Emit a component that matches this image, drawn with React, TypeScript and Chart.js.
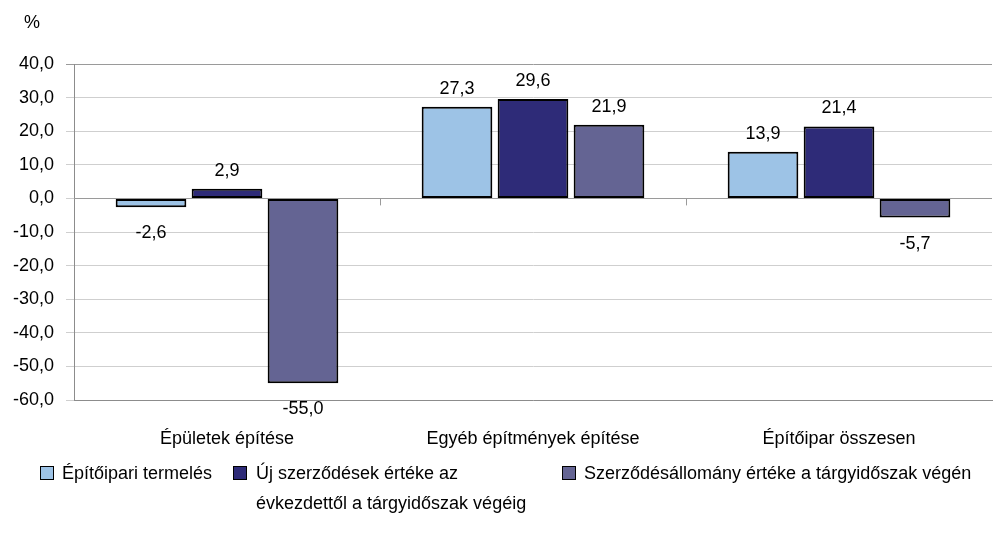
import React, { useEffect, useRef } from "react";
import { Chart, registerables } from "chart.js";

Chart.register(...registerables);

const categories = ["Épületek építése", "Egyéb építmények építése", "Építőipar összesen"];
const seriesNames = [
  "Építőipari termelés",
  "Új szerződések értéke az évkezdettől a tárgyidőszak végéig",
  "Szerződésállomány értéke a tárgyidőszak végén",
];
const termeles = [-2.6, 27.3, 13.9];
const ujSzerzodesek = [2.9, 29.6, 21.4];
const allomany = [-55.0, 21.9, -5.7];
const seriesColors = ["#9dc3e6", "#2e2b78", "#646493"];
const yMin = -60;
const yMax = 40;
const yStep = 10;

const FONT = "'Liberation Sans', Arial, sans-serif";
const FS = 18;
const fmt = (v: number) => v.toFixed(1).replace(".", ",");

const extrasPlugin = {
  id: "extras",
  beforeDatasetsDraw(chart: any) {
    const { ctx, chartArea, scales } = chart;
    const y0 = scales.y.getPixelForValue(0);
    ctx.save();
    ctx.strokeStyle = "#9a9a9a";
    ctx.lineWidth = 1;
    ctx.beginPath();
    ctx.moveTo(chartArea.left, Math.round(y0) + 0.5);
    ctx.lineTo(chartArea.right, Math.round(y0) + 0.5);
    const n = categories.length;
    const w = (chartArea.right - chartArea.left) / n;
    for (let i = 1; i < n; i++) {
      const x = Math.round(chartArea.left + i * w) + 0.5;
      ctx.moveTo(x, y0);
      ctx.lineTo(x, y0 + 7);
    }
    ctx.stroke();
    ctx.restore();
  },
  afterDatasetsDraw(chart: any) {
    const { ctx } = chart;
    ctx.save();
    ctx.font = `${FS}px ${FONT}`;
    ctx.fillStyle = "#000";
    ctx.textAlign = "center";
    ctx.textBaseline = "middle";
    chart.data.datasets.forEach((ds: any, di: number) => {
      const meta = chart.getDatasetMeta(di);
      meta.data.forEach((bar: any, i: number) => {
        const v = ds.data[i];
        const y = v >= 0 ? bar.y - 18 : bar.y + 26;
        ctx.fillText(fmt(v), bar.x, y);
      });
    });
    ctx.restore();
  },
};

export default function App() {
  const ref = useRef<HTMLCanvasElement | null>(null);
  useEffect(() => {
    document.body.style.margin = "0";
    const chart = new Chart(ref.current as HTMLCanvasElement, {
      type: "bar",
      data: {
        labels: categories,
        datasets: [termeles, ujSzerzodesek, allomany].map((d, i) => ({
          label: seriesNames[i],
          data: d,
          backgroundColor: seriesColors[i],
          borderColor: "#000",
          borderWidth: 2,
          borderSkipped: false,
          categoryPercentage: 0.745,
          barPercentage: 0.93,
        })),
      },
      options: {
        animation: false,
        responsive: false,
        layout: { padding: { top: 64, left: 0, right: 1, bottom: 0 } },
        plugins: { legend: { display: false }, tooltip: { enabled: false } },
        scales: {
          x: {
            grid: { display: false, drawTicks: false },
            border: { display: true, color: "#8c8c8c", width: 1 },
            ticks: { color: "#000", font: { family: FONT, size: FS }, padding: 28, maxRotation: 0 },
            afterFit: (s: any) => { s.height = 142; },
          },
          y: {
            min: yMin,
            max: yMax,
            ticks: {
              stepSize: yStep,
              color: "#000",
              font: { family: FONT, size: FS },
              padding: 12,
              callback: (v: any) => fmt(Number(v)),
            },
            grid: {
              color: (c: any) => (c.tick && c.tick.value === yMax ? "#9a9a9a" : "#cfcfcf"),
              tickLength: 8,
            },
            border: { display: true, color: "#8c8c8c", width: 1 },
            afterFit: (s: any) => { s.width = 74; },
          },
        },
      },
      plugins: [extrasPlugin],
    } as any);
    return () => chart.destroy();
  }, []);

  const sq = (c: string): React.CSSProperties => ({
    position: "absolute",
    width: 12,
    height: 12,
    background: c,
    border: "1.5px solid #000",
  });
  const txt: React.CSSProperties = {
    position: "absolute",
    font: `${FS}px ${FONT}`,
    color: "#000",
    whiteSpace: "nowrap",
    lineHeight: "30px",
  };

  return (
    <div style={{ position: "relative", width: 993, height: 542, background: "#fff" }}>
      <canvas ref={ref} width={993} height={542} style={{ display: "block" }} />
      <div style={{ ...txt, left: 24, top: 7 }}>%</div>
      <div style={{ ...sq(seriesColors[0]), left: 40, top: 466 }} />
      <div style={{ ...txt, left: 62, top: 458 }}>{seriesNames[0]}</div>
      <div style={{ ...sq(seriesColors[1]), left: 233, top: 466 }} />
      <div style={{ ...txt, left: 256, top: 458 }}>
        Új szerződések értéke az
        <br />
        évkezdettől a tárgyidőszak végéig
      </div>
      <div style={{ ...sq(seriesColors[2]), left: 562, top: 466 }} />
      <div style={{ ...txt, left: 584, top: 458 }}>{seriesNames[2]}</div>
    </div>
  );
}
